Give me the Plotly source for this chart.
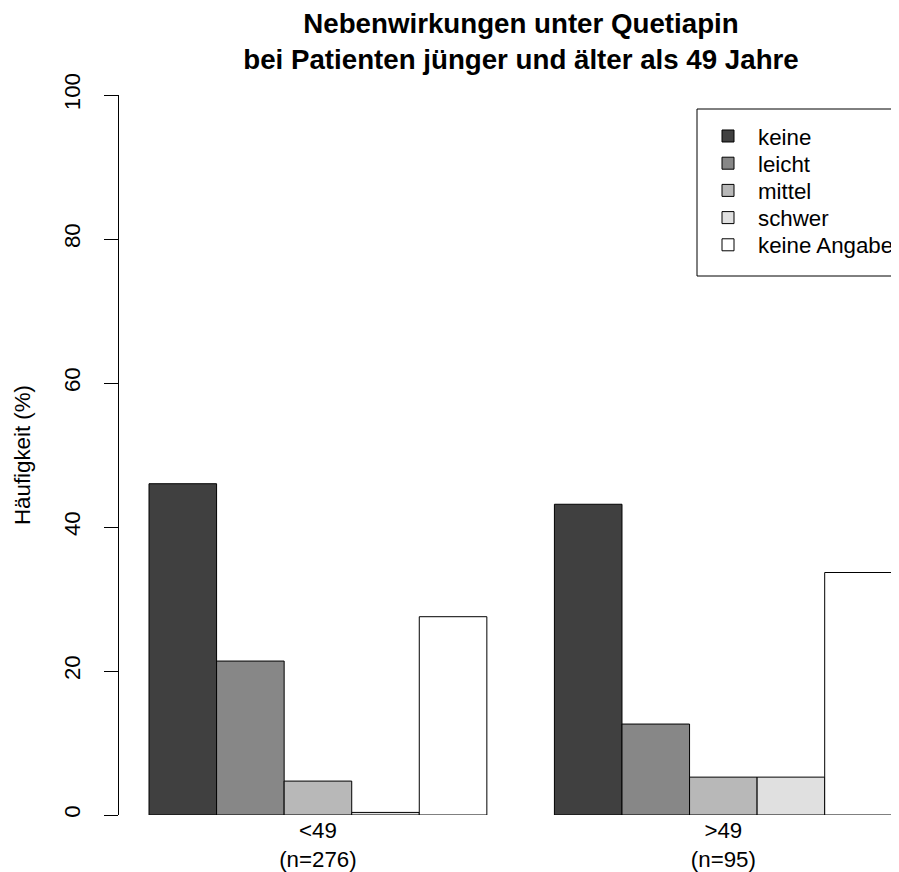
import plotly.graph_objects as go
import html

# ---- data ----
groups = ["<49", ">49"]
group_n = [276, 95]
severity = ["keine", "leicht", "mittel", "schwer", "keine Angabe"]
pct_under49 = [46.01, 21.38, 4.71, 0.36, 27.54]
pct_over49 = [43.16, 12.63, 5.26, 5.26, 33.68]
bar_colors = ["#404040", "#878787", "#b8b8b8", "#e0e0e0", "#ffffff"]
y_ticks = [0, 20, 40, 60, 80, 100]

FONT = "Liberation Sans, Arial, Helvetica, sans-serif"
FS = 22.3

# page has an 8px body margin: lay the figure out in page pixels, then offset
OFF = 8
W, H = 899 - OFF, 872 - OFF
plot_left, plot_right = 119 - OFF, 899 - OFF
plot_top, plot_bottom = 95 - OFF, 815 - OFF
plot_w = plot_right - plot_left
plot_h = plot_bottom - plot_top


def px_x(page_x):
    return (page_x - OFF - plot_left) / plot_w


def px_y(page_y):
    return (plot_bottom - (page_y - OFF)) / plot_h


fig = go.Figure()
legend_names = ["legend", "legend2", "legend3", "legend4", "legend5"]
for i, name in enumerate(severity):
    fig.add_trace(go.Bar(
        x=groups,
        y=[pct_under49[i], pct_over49[i]],
        name=name,
        marker=dict(color=bar_colors[i], line=dict(color="black", width=1)),
        legend=legend_names[i],
        showlegend=True,
        cliponaxis=False,
    ))

ticktext = [f"{html.escape(g)}<br>(n={n})" for g, n in zip(groups, group_n)]

# one legend per series so the row spacing can match the reference
leg_centers_page = [136, 163.2, 190.4, 217.6, 244.8]
legend_layouts = {}
for ln, cy in zip(legend_names, leg_centers_page):
    legend_layouts[ln] = dict(
        x=px_x(698), xanchor="left",
        y=px_y(cy), yanchor="middle",
        bgcolor="rgba(0,0,0,0)", borderwidth=0,
        itemwidth=50,
        font=dict(family=FONT, size=FS, color="black"),
        itemclick=False, itemdoubleclick=False,
        visible=True,
    )

fig.update_layout(
    width=W, height=H,
    margin=dict(l=plot_left, r=W - plot_right, t=plot_top, b=H - plot_bottom,
                autoexpand=False),
    showlegend=True,
    paper_bgcolor="white", plot_bgcolor="white",
    barmode="group", bargap=1/6, bargroupgap=0,
    font=dict(family=FONT, size=FS, color="black"),
    title=dict(
        text="Nebenwirkungen unter Quetiapin<br>bei Patienten jünger und älter als 49 Jahre",
        font=dict(family=FONT, size=27.7, color="black", weight="bold"),
        x=px_x(521), xref="paper", xanchor="center",
        y=1 - 25 / H, yref="container", yanchor="top",
    ),
    xaxis=dict(
        type="category",
        range=[-0.4907, 1.4333],
        tickvals=groups, ticktext=ticktext,
        ticks="", showline=False, showgrid=False, zeroline=False,
        tickfont=dict(family=FONT, size=FS, color="black"),
    ),
    yaxis=dict(
        range=[0, 100],
        tickvals=y_ticks,
        ticks="outside", ticklen=14, tickwidth=1, tickcolor="black",
        showline=True, linecolor="black", linewidth=1,
        showgrid=False, zeroline=False,
        tickangle=-90,
        tickfont=dict(family=FONT, size=FS, color="black"),
        ticklabelstandoff=15,
    ),
    shapes=[dict(
        type="rect", xref="paper", yref="paper",
        x0=px_x(697), x1=1.2,
        y0=px_y(276), y1=px_y(109),
        line=dict(color="black", width=1), fillcolor="rgba(0,0,0,0)",
    )],
    annotations=[dict(
        text="Häufigkeit (%)", textangle=-90,
        xref="paper", yref="paper",
        x=px_x(22), y=0.5, xanchor="center", yanchor="middle",
        showarrow=False, font=dict(family=FONT, size=FS, color="black"),
    )],
    **legend_layouts,
)

fig.write_html("out.html")
